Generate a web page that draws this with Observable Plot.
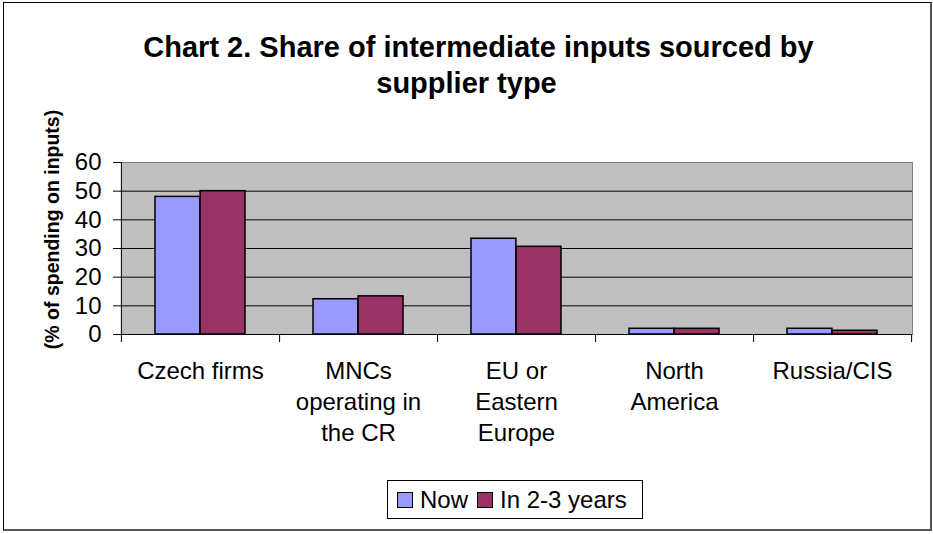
<!DOCTYPE html>
<html>
<head>
<meta charset="utf-8">
<script src="https://cdn.jsdelivr.net/npm/d3@7"></script>
<script src="https://cdn.jsdelivr.net/npm/@observablehq/plot@0.6"></script>
<style>
  body { margin: 0; background: #fff; font-family: "Liberation Sans", Arial, sans-serif; color: #000; }
  #chart { position: relative; width: 933px; height: 534px; overflow: hidden; }
  #border { position: absolute; left: 3px; top: 2px; width: 926px; height: 526px;
    border-left: 1px solid #000; border-top: 1px solid #000; border-right: 2px solid #555; border-bottom: 2px solid #555; }
  #title { position: absolute; left: 0; top: 29px; width: 933px; text-align: center;
    font-weight: bold; font-size: 29px; line-height: 36px; }
  #title .l0 { position: relative; left: 12px; }
  #plot { position: absolute; left: 0; top: 90px; }
  #legend { position: absolute; left: 387px; top: 480px; width: 254px; height: 37px;
    border: 1px solid #000; background: #fff; display: flex; align-items: center; font-size: 24px; }
  .item { display: flex; align-items: center; margin-left: 9px; }
  .swatch { width: 14px; height: 14px; border: 1px solid #000; margin-right: 7px; }
</style>
</head>
<body>
<div id="chart">
  <div id="border"></div>
  <div id="title"></div>
  <div id="plot"></div>
  <div id="legend"></div>
</div>
<script>
const titleLines = ["Chart 2. Share of intermediate inputs sourced by", "supplier type"];
const categories = ["Czech firms", "MNCs operating in the CR", "EU or Eastern Europe", "North America", "Russia/CIS"];
const tickLabels = ["Czech firms", "MNCs\noperating in\nthe CR", "EU or\nEastern\nEurope", "North\nAmerica", "Russia/CIS"];
const nowValues = [48, 12.3, 33.4, 2.0, 2.0];
const futureValues = [50, 13.3, 30.6, 2.0, 1.3];
const seriesNames = ["Now", "In 2-3 years"];
const seriesColors = ["#9999FF", "#993366"];
const yTicks = [0, 10, 20, 30, 40, 50, 60];
const yLabel = "(% of spending on inputs)";

const titleEl = document.getElementById("title");
titleLines.forEach((t, i) => {
  const s = document.createElement("span");
  s.className = "l" + i;
  s.textContent = t;
  titleEl.appendChild(s);
  if (i < titleLines.length - 1) titleEl.appendChild(document.createElement("br"));
});

const W = 933, H = 370, mL = 121, mR = 21, mT = 72, mB = 126;
const pIn = 0.43, pOut = 0.215;
const step = (W - mL - mR) / (categories.length - pIn + 2 * pOut);
const bw = step * (1 - pIn);
const tickDepth = 8 * 60 / (H - mT - mB); // 8px in y units

const chart = Plot.plot({
  width: W, height: H,
  marginLeft: mL, marginRight: mR, marginTop: mT, marginBottom: mB,
  style: { fontFamily: "'Liberation Sans', Arial, sans-serif", color: "#000", background: "transparent", overflow: "visible" },
  x: { type: "band", domain: categories, paddingInner: pIn, paddingOuter: pOut, axis: null },
  y: { domain: [0, 60], axis: null },
  marks: [
    Plot.frame({ fill: "#C0C0C0", stroke: "#808080" }),
    Plot.ruleY(yTicks.filter(t => t > 0 && t < 60), { stroke: "#000", strokeWidth: 1 }),
    Plot.barY(categories, { x: d => d, y: (d, i) => nowValues[i], fill: seriesColors[0], stroke: "#000", strokeWidth: 1.5, insetRight: bw / 2 }),
    Plot.barY(categories, { x: d => d, y: (d, i) => futureValues[i], fill: seriesColors[1], stroke: "#000", strokeWidth: 1.5, insetLeft: bw / 2 }),
    Plot.ruleY([0], { stroke: "#000", strokeWidth: 1 }),
    Plot.ruleX([categories[0]], { x: d => d, dx: -step / 2, y1: -tickDepth, y2: 60, stroke: "#000", strokeWidth: 1 }),
    Plot.ruleX(categories, { x: d => d, dx: step / 2, y1: -tickDepth, y2: 0, stroke: "#000", strokeWidth: 1 }),
    Plot.axisY(yTicks, { tickSize: 8, tickPadding: 12, fontSize: 24, label: null, stroke: "#000" }),
    Plot.axisX({ tickSize: 0, tickPadding: 23, fontSize: 24, lineHeight: 1.29, label: null,
      tickFormat: d => tickLabels[categories.indexOf(d)] }),
    Plot.text([yLabel], { frameAnchor: "left", textAnchor: "middle", lineAnchor: "middle", rotate: -90, dx: -69, dy: -19, fontSize: 19.5, fontWeight: "bold", fill: "#000" })
  ]
});
document.getElementById("plot").appendChild(chart);

const legend = document.getElementById("legend");
seriesNames.forEach((name, i) => {
  const item = document.createElement("div");
  item.className = "item";
  const sw = document.createElement("span");
  sw.className = "swatch";
  sw.style.background = seriesColors[i];
  item.appendChild(sw);
  item.appendChild(document.createTextNode(name));
  legend.appendChild(item);
});
</script>
</body>
</html>
